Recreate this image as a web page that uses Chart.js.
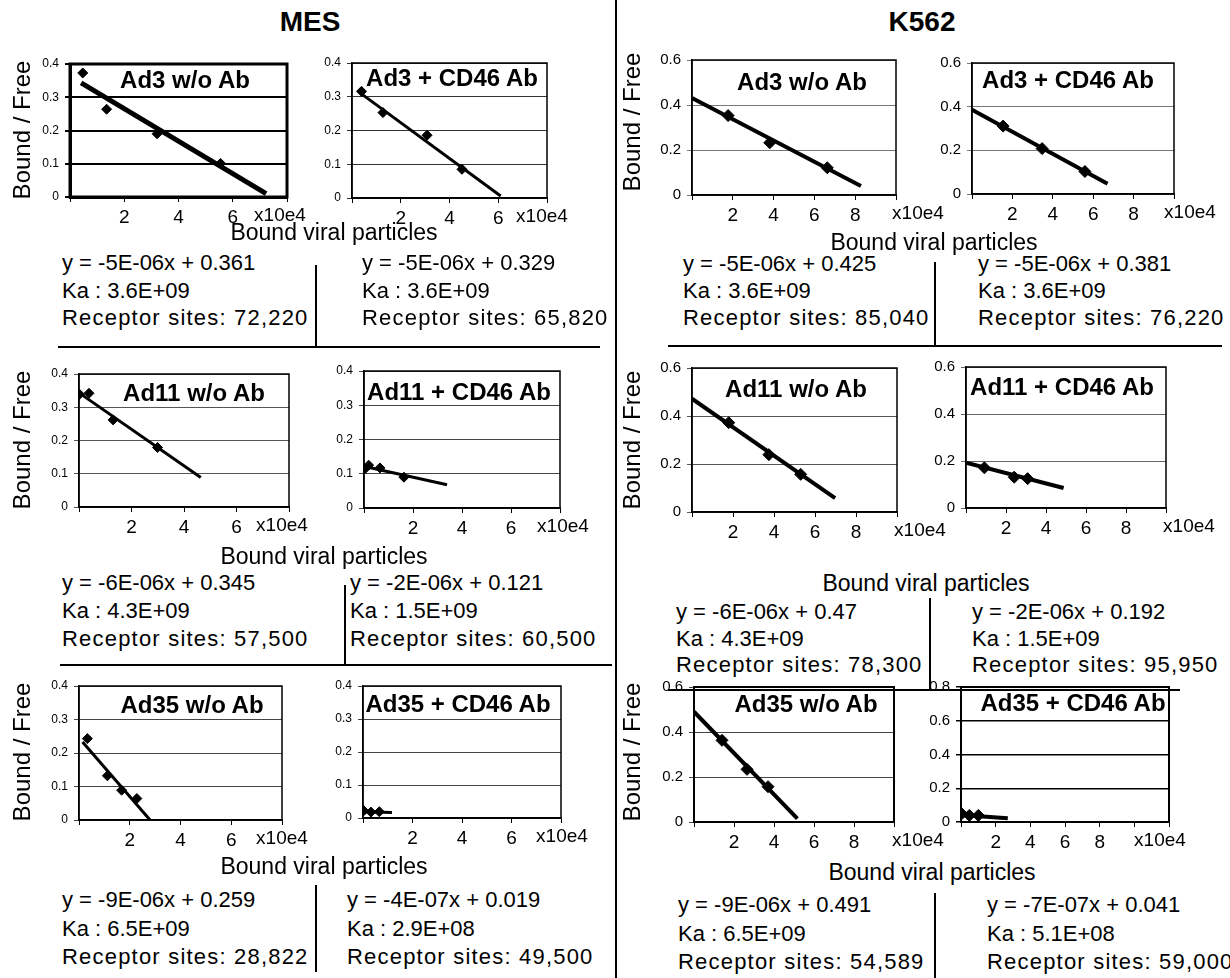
<!DOCTYPE html>
<html><head><meta charset="utf-8">
<script src="https://cdn.jsdelivr.net/npm/chart.js@4/dist/chart.umd.min.js"></script>
<style>
html,body{margin:0;padding:0;background:#fff}
body{width:1230px;height:978px;position:relative;overflow:hidden;font-family:"Liberation Sans",Arial,Helvetica,sans-serif;color:#000}
.t{position:absolute;white-space:nowrap;line-height:1}
.rs{letter-spacing:1.2px}
.ln{position:absolute;background:#000}
canvas{position:absolute}
</style></head><body>
<script>
// ---------- DATA ----------
const panelTitles = ["Ad3 w/o Ab","Ad3 + CD46 Ab","Ad3 w/o Ab","Ad3 + CD46 Ab",
  "Ad11 w/o Ab","Ad11 + CD46 Ab","Ad11 w/o Ab","Ad11 + CD46 Ab",
  "Ad35 w/o Ab","Ad35 + CD46 Ab","Ad35 w/o Ab","Ad35 + CD46 Ab"];
const pointsX = [
  [0.47,1.35,3.21,5.55],[0.39,1.27,3.08,4.51],[1.77,3.81,6.63],[1.54,3.47,5.59],
  [0.02,0.38,1.30,2.99],[0.03,0.19,0.65,1.63],[1.79,3.75,5.30],[0.92,2.41,3.08],
  [0.33,1.12,1.68,2.28],[0.03,0.32,0.66],[1.40,2.65,3.70],[0.04,0.48,1.00]];
const pointsY = [
  [0.373,0.264,0.190,0.101],[0.316,0.253,0.186,0.085],[0.353,0.232,0.121],[0.311,0.208,0.103],
  [0.339,0.342,0.262,0.179],[0.114,0.125,0.117,0.090],[0.372,0.239,0.157],[0.171,0.131,0.125],
  [0.243,0.132,0.089,0.064],[0.022,0.018,0.019],[0.363,0.234,0.157],[0.049,0.039,0.039]];
const fitX = [[0.41,7.23],[0.36,6.10],[0,8.28],[0,6.71],[0.10,4.64],[0.03,3.39],
  [0,6.98],[0,4.88],[0.14,2.80],[0,1.17],[0,5.17],[0,2.70]];
const fitY = [[0.343,0.010],[0.310,0.006],[0.431,0.040],[0.386,0.047],[0.338,0.089],[0.121,0.068],
  [0.472,0.058],[0.193,0.085],[0.233,0.000],[0.019,0.017],[0.490,0.015],[0.042,0.022]];
const yMax  = [0.4,0.4,0.6,0.6,0.4,0.4,0.6,0.6,0.4,0.4,0.6,0.8];
const yStep = [0.1,0.1,0.2,0.2,0.1,0.1,0.2,0.2,0.1,0.1,0.2,0.2];
const xMax  = [8,8,10,10,8,8,10,10,8,8,10,12];
const xTickLabels = [[2,4,6],[2,4,6],[2,4,6,8],[2,4,6,8],[2,4,6],[2,4,6],[2,4,6,8],[2,4,6,8],
  [2,4,6],[2,4,6],[2,4,6,8],[2,4,6,8]];
const xUnitLabel = "x10e4";
const equations = ["y = -5E-06x + 0.361","y = -5E-06x + 0.329","y = -5E-06x + 0.425","y = -5E-06x + 0.381",
  "y = -6E-06x + 0.345","y = -2E-06x + 0.121","y = -6E-06x + 0.47","y = -2E-06x + 0.192",
  "y = -9E-06x + 0.259","y = -4E-07x + 0.019","y = -9E-06x + 0.491","y = -7E-07x + 0.041"];
const kaValues = ["Ka : 3.6E+09","Ka : 3.6E+09","Ka : 3.6E+09","Ka : 3.6E+09",
  "Ka : 4.3E+09","Ka : 1.5E+09","Ka : 4.3E+09","Ka : 1.5E+09",
  "Ka : 6.5E+09","Ka : 2.9E+08","Ka : 6.5E+09","Ka : 5.1E+08"];
const receptorSites = ["Receptor sites: 72,220","Receptor sites: 65,820","Receptor sites: 85,040","Receptor sites: 76,220",
  "Receptor sites: 57,500","Receptor sites: 60,500","Receptor sites: 78,300","Receptor sites: 95,950",
  "Receptor sites: 28,822","Receptor sites: 49,500","Receptor sites: 54,589","Receptor sites: 59,000"];
const sectionTitles = ["MES","K562"];
const yAxisTitle = "Bound / Free";
const xAxisTitle = "Bound viral particles";

// ---------- LAYOUT ----------
const FONT = '"Liberation Sans", Arial, Helvetica, sans-serif';
const plotBox = [ // left, top, right, bottom of plot area
  [70,64,287,197],[352,63,547,198],[692,59,896,195],[972,62,1174,194],
  [79,374,289,507],[364,371,560,508],[692,367,897,512],[966,366,1166,508],
  [79,686,282,820],[363,686,561,818],[694,686,894,822],[961,686,1169,822]];
const titlePos = [[185,80],[452,78],[802,82],[1068,80],[194,393],[459,392],[796,389],[1062,387],
  [192,705],[458,704],[806,704],[1073,703]];
const unitDx = [-7,-5,22,16,-7,3,23,23,0,1,24,-9];
const eqPos = [[62,263],[362,263],[683,264],[978,264],[62,583],[350,583],[676,612],[972,612],
  [62,900],[347,900],[678,905],[987,905]];
const eqGap = [27.5,27.5,27,27,28,28,26.5,26.5,28.5,28.5,28.5,28.5];
const isK = [0,0,1,1,0,0,1,1,0,0,1,1];
const gridCol = ['#000','#333','#777','#777','#555','#444','#555','#666','#444','#444','#444','#000'];
const gridW   = [2,1,1,1,1,1,1,1,1,1,1,1.5];
const frameW  = [3,1.5,1.5,1.5,1.5,1.5,1.5,1.5,1.5,1.5,2,2];
const fitW    = [5,3,4,4,3,3,4,4,3,3,4,4];
const ptR     = [5,5,6,6,5,5,6,6,5,5,6,6];
const PL=52, PT=14, PR=62, PB=34;

function addText(s,x,y,size,bold,cls){
  const d=document.createElement('div');d.className='t'+(cls?' '+cls:'');d.textContent=s;
  d.style.left=x+'px';d.style.top=(y-size/2)+'px';d.style.fontSize=size+'px';
  if(bold)d.style.fontWeight='bold';document.body.appendChild(d);return d;
}
function addCenter(s,x,y,size,bold,rot){
  const d=document.createElement('div');d.className='t';d.textContent=s;
  d.style.left=x+'px';d.style.top=y+'px';d.style.fontSize=size+'px';
  if(bold)d.style.fontWeight='bold';
  d.style.transform='translate(-50%,-50%)'+(rot?' rotate(-90deg)':'');
  document.body.appendChild(d);return d;
}
function addLine(x,y,w,h){
  const d=document.createElement('div');d.className='ln';
  d.style.left=x+'px';d.style.top=y+'px';d.style.width=w+'px';d.style.height=h+'px';
  document.body.appendChild(d);
}

const framePlugin = {
  id:'frame',
  afterDraw(chart,args,opts){
    const a=chart.chartArea, c=chart.ctx;
    c.save();
    c.strokeStyle='#000';c.lineWidth=opts.w;
    c.strokeRect(a.left,a.top,a.right-a.left,a.bottom-a.top);
    c.fillStyle='#000';c.font='19px '+FONT;c.textAlign='center';c.textBaseline='top';
    c.fillText(opts.unit,a.right+opts.dx,a.bottom+9);
    c.restore();
  }
};

for(let i=0;i<12;i++){
  const [l,t,r,b]=plotBox[i];
  const cv=document.createElement('canvas');
  const W=r-l+PL+PR, H=b-t+PT+PB;
  cv.width=W;cv.height=H;cv.style.width=W+'px';cv.style.height=H+'px';
  cv.style.left=(l-PL)+'px';cv.style.top=(t-PT)+'px';
  document.body.appendChild(cv);
  const ySize = isK[i]?15:12;
  new Chart(cv,{
    type:'scatter',
    data:{datasets:[
      {data:fitX[i].map((x,k)=>({x,y:fitY[i][k]})),showLine:true,borderColor:'#000',
       borderWidth:fitW[i],pointRadius:0,borderCapStyle:'butt',order:2},
      {data:pointsX[i].map((x,k)=>({x,y:pointsY[i][k]})),pointStyle:'rectRot',
       pointRadius:ptR[i],backgroundColor:'#000',borderColor:'#000',borderWidth:1,order:1}
    ]},
    options:{
      animation:false,responsive:false,devicePixelRatio:1,
      plugins:{legend:{display:false},tooltip:{enabled:false},
        frame:{w:frameW[i],dx:unitDx[i],unit:xUnitLabel}},
      layout:{padding:{left:0,top:PT,right:PR,bottom:0}},
      scales:{
        x:{type:'linear',min:0,max:xMax[i],
          ticks:{stepSize:2,autoSkip:false,maxRotation:0,padding:4,color:'#000',
            font:{family:FONT,size:19},
            callback:v=>xTickLabels[i].includes(v)?String(v):''},
          grid:{display:true,drawOnChartArea:false,drawTicks:true,tickLength:5,color:'#000',lineWidth:1},
          border:{display:true,color:'#000',width:frameW[i]},
          afterFit:s=>{s.height=PB;}},
        y:{min:0,max:yMax[i],
          ticks:{stepSize:yStep[i],padding:6,color:'#000',font:{family:FONT,size:ySize},
            callback:v=>Math.abs(v)<1e-9?'0':v.toFixed(1)},
          grid:{color:gridCol[i],lineWidth:gridW[i],drawTicks:true,tickLength:5},
          border:{display:true,color:'#000',width:frameW[i]},
          afterFit:s=>{s.width=PL;}}
      }
    },
    plugins:[framePlugin]
  });
  addCenter(panelTitles[i],titlePos[i][0],titlePos[i][1],24,true,false);
  const [ex,ey]=eqPos[i];
  addText(equations[i],ex,ey,22);
  addText(kaValues[i],ex,ey+eqGap[i],22);
  addText(receptorSites[i],ex,ey+2*eqGap[i],22,false,'rs');
}

// section titles
addCenter(sectionTitles[0],310,22,28,true);
addCenter(sectionTitles[1],922,22,28,true);
// y axis titles
[[22,130],[22,440],[22,752],[632,122],[632,440],[632,752]].forEach(p=>addCenter(yAxisTitle,p[0],p[1],24,false,true));
// x axis titles
[[334,232],[324,556],[324,866],[934,242],[926,583],[932,872]].forEach(p=>addCenter(xAxisTitle,p[0],p[1],23,false));
// separators
addLine(615,0,2,978);
addLine(315,265,2,82);addLine(58,346,542,2);
addLine(934,262,2,84);addLine(668,345,554,2);
addLine(344,585,2,80);addLine(60,664,552,2);
addLine(929,598,2,92);addLine(668,689,512,2);
addLine(315,885,2,87);
addLine(934,893,2,85);
</script>
</body></html>
